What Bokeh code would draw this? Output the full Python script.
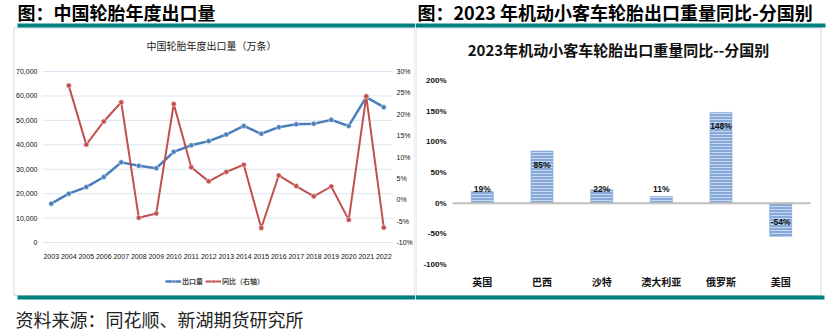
import numpy as np
from bokeh.plotting import figure
from bokeh.models import (Range1d, LinearAxis, FixedTicker, NumeralTickFormatter, PrintfTickFormatter,
                          Legend, LegendItem, Label, BoxAnnotation, ColumnDataSource)
from bokeh.layouts import row
from bokeh.embed import file_html
from bokeh.resources import INLINE
from bokeh.core.properties import value

# ---------------- data ----------------
years = ["2003", "2004", "2005", "2006", "2007", "2008", "2009", "2010", "2011", "2012",
         "2013", "2014", "2015", "2016", "2017", "2018", "2019", "2020", "2021", "2022"]
export_qty = [15900, 20000, 22700, 26800, 32800, 31400, 30400, 37100, 39800, 41500,
              44200, 47700, 44500, 47200, 48400, 48600, 50200, 47700, 59500, 55400]
export_yoy = [None, 26.7, 12.9, 18.3, 22.8, -4.2, -3.2, 22.4, 7.6, 4.3,
              6.5, 8.2, -6.6, 5.7, 3.2, 0.8, 3.1, -4.7, 24.2, -6.5]
qty_ticks = [0, 10000, 20000, 30000, 40000, 50000, 60000, 70000]
yoy_ticks = [-10, -5, 0, 5, 10, 15, 20, 25, 30]

countries = ["英国", "巴西", "沙特", "澳大利亚", "俄罗斯", "美国"]
yoy_2023 = [19, 85, 22, 11, 148, -54]
pct_ticks = [-100, -50, 0, 50, 100, 150, 200]

left_header = "图：中国轮胎年度出口量"
left_title = "中国轮胎年度出口量（万条）"
right_header = "图：2023 年机动小客车轮胎出口重量同比-分国别"
right_title = "2023年机动小客车轮胎出口重量同比--分国别"
source_note = "资料来源：同花顺、新湖期货研究所"
legend_labels = ["出口量", "同比（右轴）"]

# ---------------- styles ----------------
TEAL = "#008080"
BLUE = "#4a7ebb"
RED = "#c0504d"
BORDER = "#d9d9d9"
GRID = "#dce6f2"
CJK = "Noto Sans CJK SC"
LAT = "Liberation Sans"
H = 330


class Geo:
    """Maps page pixels of one panel to data coordinates of its figure (frame == whole canvas)."""

    def __init__(self, width, x0, px0, x1, px1, y0, py0, y1, py1):
        self.width = width
        self.kx = (x1 - x0) / (px1 - px0)
        self.xs = x0 - px0 * self.kx
        self.ky = (y1 - y0) / ((H - py1) - (H - py0))
        self.ys = y0 - (H - py0) * self.ky

    def x_range(self):
        return Range1d(self.xs, self.xs + self.width * self.kx)

    def y_range(self):
        return Range1d(self.ys, self.ys + H * self.ky)

    def dx(self, px):
        return self.xs + px * self.kx

    def dy(self, py):
        return self.ys + (H - py) * self.ky


def make_fig(geo):
    p = figure(width=geo.width, height=H, x_range=geo.x_range(), y_range=geo.y_range(),
               x_axis_type=None, y_axis_type=None, output_backend="svg", toolbar_location=None,
               min_border=0, min_border_left=0, min_border_right=0, min_border_top=0, min_border_bottom=0,
               outline_line_color=None, background_fill_color="white", border_fill_color="white")
    p.grid.visible = False
    return p


def style_axis(ax, font, size, bold=False, standoff=5, color="#111111"):
    ax.axis_line_color = None
    ax.major_tick_line_color = None
    ax.minor_tick_line_color = None
    ax.major_tick_out = 0
    ax.major_tick_in = 0
    ax.minor_tick_out = 0
    ax.minor_tick_in = 0
    ax.major_label_text_font = font
    ax.major_label_text_font_size = size
    ax.major_label_text_font_style = "bold" if bold else "normal"
    ax.major_label_text_color = color
    ax.major_label_standoff = standoff


def box(p, geo, l, r, t, b, fill=None, line=None):
    p.add_layout(BoxAnnotation(left=geo.dx(l), right=geo.dx(r), top=geo.dy(t), bottom=geo.dy(b),
                               fill_color=fill if fill else "white", fill_alpha=1.0 if fill else 0.0,
                               line_color=line if line else "white", line_width=1,
                               line_alpha=1.0 if line else 0.0, level="underlay"))


def label(p, geo, x, y, text, size, bold=False, align="left", color="#000000"):
    p.add_layout(Label(x=geo.dx(x), y=geo.dy(y), text=text,
                       text_font=CJK, text_font_size=size,
                       text_font_style="bold" if bold else "normal",
                       text_align=align, text_baseline="middle", text_color=color))


# ---------------- left chart ----------------
n = len(years)
idx = list(range(n))
lg = Geo(415, -0.5, 42, n - 0.5, 392, 0, 242, 70000, 71)
lf = make_fig(lg)
# right axis scale: -10% at the 0 line, 30% at the 70,000 line
yg = Geo(415, -0.5, 42, n - 0.5, 392, -10, 242, 30, 71)
lf.extra_y_ranges = {"yoy": yg.y_range()}

# panel decoration
box(lf, lg, 13.5, 414.5, 27.5, 295, line=BORDER)
box(lf, lg, 17, 415, 23, 27, fill=TEAL)
box(lf, lg, 17, 415, 295, 299, fill=TEAL)

# horizontal gridlines across the category area
lf.segment(x0=[-0.5] * len(qty_ticks), x1=[n - 0.5] * len(qty_ticks), y0=qty_ticks, y1=qty_ticks,
           line_color=GRID, line_width=1)

xax = LinearAxis(fixed_location=0, ticker=FixedTicker(ticks=idx),
                 major_label_overrides={i: y for i, y in zip(idx, years)})
style_axis(xax, LAT, "7px", standoff=11)
lf.add_layout(xax, "below")

yax = LinearAxis(fixed_location=-0.5, ticker=FixedTicker(ticks=qty_ticks),
                 formatter=NumeralTickFormatter(format="0,0"))
style_axis(yax, LAT, "7px", standoff=5)
lf.add_layout(yax, "left")

rax = LinearAxis(y_range_name="yoy", fixed_location=n - 0.5, ticker=FixedTicker(ticks=yoy_ticks),
                 formatter=PrintfTickFormatter(format="%d%%"))
style_axis(rax, LAT, "7px", standoff=4)
lf.add_layout(rax, "right")

src = ColumnDataSource(dict(x=idx, qty=export_qty,
                            yoy=np.array([np.nan if v is None else v for v in export_yoy], dtype=float)))
r1 = lf.line("x", "qty", source=src, line_color=BLUE, line_width=2.5)
r1m = lf.scatter("x", "qty", source=src, size=5, fill_color=BLUE, line_color="#dfe8f3", line_width=0.6)
r2 = lf.line("x", "yoy", source=src, y_range_name="yoy", line_color=RED, line_width=2)
r2m = lf.scatter("x", "yoy", source=src, y_range_name="yoy", size=5, fill_color=RED,
                 line_color="#f3dede", line_width=0.6)

leg = Legend(items=[LegendItem(label=legend_labels[0], renderers=[r1, r1m]),
                    LegendItem(label=legend_labels[1], renderers=[r2, r2m])],
             orientation="horizontal", location=(165, H - 286),
             label_text_font=CJK, label_text_font_size="7px", label_text_font_style="bold",
             glyph_width=16, glyph_height=8, label_standoff=1, spacing=2, padding=2, margin=0,
             label_width=10, label_height=8,
             border_line_color=None, background_fill_alpha=0)
lf.add_layout(leg)

label(lf, lg, 17, 11, left_header, "18px", bold=True)
label(lf, lg, 211, 45, left_title, "10px", align="center", color="#222222")
label(lf, lg, 15, 318, source_note, "18px", color="#222222")

# ---------------- right chart ----------------
R_X0 = 415
m = len(countries)
cidx = list(range(m))
rg = Geo(837 - R_X0, -0.5, 452 - R_X0, m - 0.5, 810 - R_X0, -100, 264, 200, 80)
rf = make_fig(rg)

box(rf, rg, 0.5, 405.5, 27.5, 295, line=BORDER)
box(rf, rg, 0, 410, 23, 27, fill=TEAL)
box(rf, rg, 0, 409, 295, 299, fill=TEAL)

rf.vbar(x=cidx, top=yoy_2023, bottom=0, width=0.37,
        fill_color="#86a9da", line_color="#7b9fd3", line_width=0.5,
        hatch_pattern="-", hatch_color="white", hatch_alpha=0.55, hatch_scale=3, hatch_weight=1)
rf.segment(x0=[-0.5], x1=[m - 0.5], y0=[0], y1=[0], line_color="#bfbfbf", line_width=2)

px_per_pct = (264 - 80) / (200 - (-100))
inset = 14 / px_per_pct
label_y = [float(np.sign(v) * max(abs(v) - inset, inset)) for v in yoy_2023]
label_txt = [f"{v}%" for v in yoy_2023]
rf.text(x=cidx, y=label_y, text=label_txt, text_align="center", text_baseline="middle",
        text_font=value(LAT), text_font_size="8.5px", text_font_style="bold", text_color="#111111")

cax = LinearAxis(fixed_location=-100, ticker=FixedTicker(ticks=cidx),
                 major_label_overrides={i: c for i, c in zip(cidx, countries)})
style_axis(cax, CJK, "10px", bold=True, standoff=9)
rf.add_layout(cax, "below")

pax = LinearAxis(fixed_location=-0.5, ticker=FixedTicker(ticks=pct_ticks),
                 formatter=PrintfTickFormatter(format="%d%%"))
style_axis(pax, LAT, "8px", bold=True, standoff=6)
rf.add_layout(pax, "left")

label(rf, rg, 417 - R_X0, 11, right_header, "18px", bold=True)
label(rf, rg, 618 - R_X0, 49, right_title, "15px", bold=True, align="center", color="#111111")

layout = row(lf, rf)
open("out.html", "w").write(file_html(layout, INLINE, title="chart"))
